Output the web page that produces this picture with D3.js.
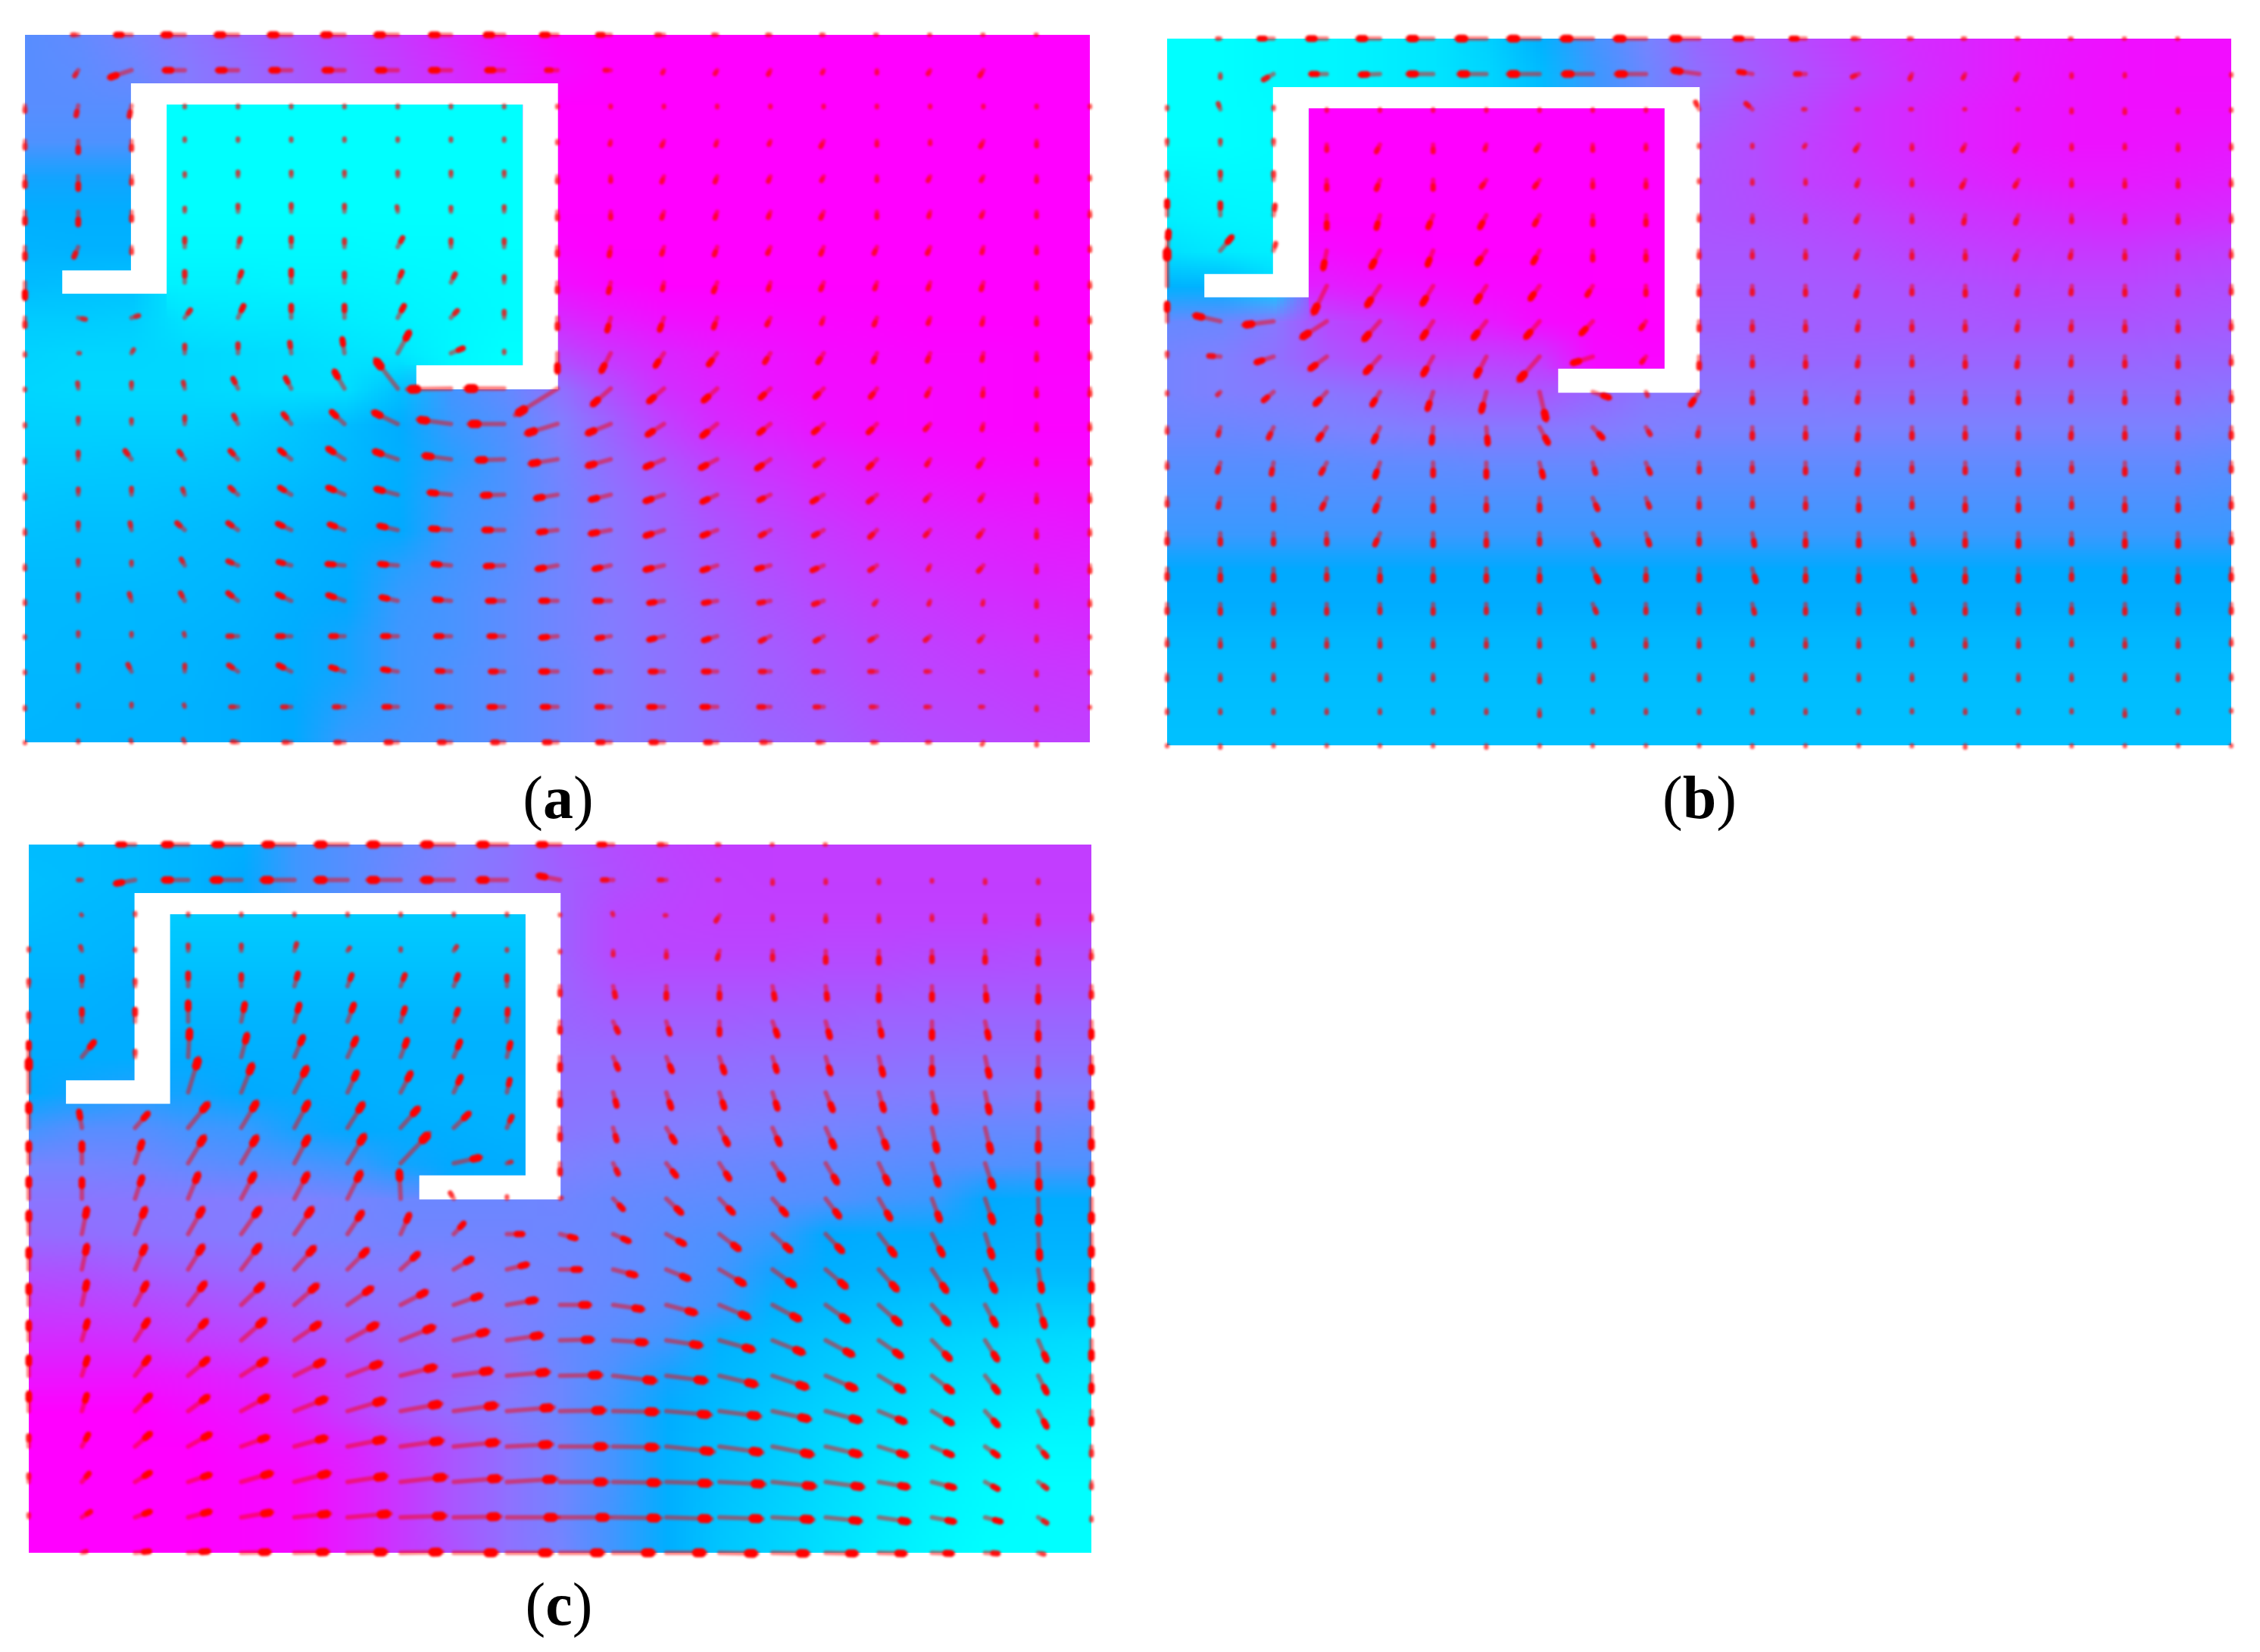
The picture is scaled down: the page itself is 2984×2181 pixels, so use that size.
<!DOCTYPE html>
<html><head><meta charset="utf-8">
<style>html,body{margin:0;padding:0;background:#fff}svg{display:block}</style>
<script src="https://cdnjs.cloudflare.com/ajax/libs/d3/7.8.5/d3.min.js"></script>
</head><body><div id="chart"></div>
<script>
const panelLabels=["a","b","c"];
const heatA=[
[42,44,48,54,60,66,72,78,85,92,98,100,100,100,100,100,100,100,100,100,100],
[42,43,46,52,58,64,70,76,83,90,96,100,100,100,100,100,100,100,100,100,100],
[42,42,42,0,0,0,0,0,0,0,100,100,100,100,100,100,100,100,100,100,100],
[40,40,40,0,0,0,0,0,0,0,100,100,100,100,100,100,100,100,100,100,100],
[34,34,34,0,0,0,0,0,0,0,100,100,100,100,100,100,100,100,100,100,100],
[31,31,31,0,0,0,0,0,0,0,100,100,100,100,100,100,100,100,100,100,100],
[29,30,30,2,2,2,2,1,1,0,98,100,100,100,100,100,100,100,100,100,100],
[26,25,24,5,5,4,4,3,2,1,94,98,100,100,100,100,100,100,100,100,100],
[20,20,19,10,9,9,7,5,3,1,84,90,94,96,97,98,99,100,100,100,100],
[17,16,16,15,14,13,11,9,3,0,72,80,86,90,93,96,97,98,98,99,100],
[16,15,15,15,14,13,13,24,38,44,56,70,82,87,92,95,96,97,98,99,98],
[18,18,18,18,19,22,26,32,36,41,50,62,75,84,88,93,96,97,98,99,99],
[20,20,21,21,22,24,27,31,35,40,48,58,68,76,82,87,91,94,96,97,97],
[22,23,23,24,25,27,29,32,36,40,47,55,63,71,77,83,87,90,92,93,94],
[24,25,25,26,27,29,31,33,37,41,47,54,61,67,73,78,83,86,88,90,91],
[26,26,26,27,28,30,32,35,38,42,47,53,59,65,70,75,79,83,85,87,88],
[27,27,28,28,29,31,33,36,39,43,47,52,57,62,67,72,76,79,82,84,85],
[27,28,28,29,30,32,34,37,39,43,47,51,56,60,65,69,73,76,79,81,82],
[28,28,29,29,31,32,34,37,40,43,46,50,55,59,63,67,71,74,76,78,79],
[28,29,29,30,31,33,35,37,40,43,46,50,54,58,62,65,69,72,74,76,77],
[29,29,30,30,31,33,36,38,40,43,46,50,54,57,60,63,67,70,72,74,75]];
const uA=[
[0,-8,-22,-30,-30,-30,-30,-30,-28,-26,-22,-18,-10,-5,-4,-3,-2,-1,-1,-1,0],
[0,-5,-30,-28,-28,-28,-28,-28,-28,-24,-15,-8,-2,-3,-3,-2,0,-3,-5,0,0],
[0,-3,-3,0,0,0,0,0,0,0,0,0,0,0,0,0,0,0,0,0,0],
[0,0,0,0,0,0,0,0,0,0,0,-1,-3,-2,-2,-4,0,0,-4,0,0],
[0,0,0,0,0,0,0,0,0,0,0,0,-3,-3,-3,-3,0,-3,-3,0,0],
[0,0,0,0,0,0,0,-1,0,0,0,0,-3,-3,-3,-4,0,-2,-3,0,0],
[0,-6,0,0,3,0,0,7,0,0,0,-2,-3,-4,-4,-4,-4,-4,-2,0,0],
[0,0,0,0,5,0,0,6,6,0,0,-3,-2,-5,-3,-4,-3,-3,-3,0,0],
[0,10,10,8,8,0,0,9,9,0,0,-5,-6,-5,-5,-3,-4,-3,-2,0,0],
[0,2,3,0,0,-2,-3,16,17,0,0,-13,-12,-12,-8,-8,-5,-4,-2,0,0],
[0,-1,0,-2,-7,-8,-14,-30,-58,-52,-56,-25,-21,-19,-14,-12,-9,-5,-1,0,0],
[0,0,0,0,-6,-11,-18,-33,-44,-47,-42,-32,-23,-21,-16,-14,-12,-7,-2,0,0],
[0,0,-9,-8,-11,-16,-23,-32,-37,-37,-37,-32,-26,-23,-19,-12,-12,-5,-7,0,0],
[0,0,0,-3,-11,-16,-23,-30,-30,-30,-30,-28,-26,-21,-16,-16,-12,-7,-5,0,0],
[0,0,-2,-11,-14,-19,-21,-26,-28,-28,-26,-28,-26,-21,-14,-14,-10,-7,-7,0,0],
[0,0,0,-5,-14,-18,-24,-25,-25,-26,-28,-23,-26,-21,-19,-16,-10,-3,-7,0,0],
[0,0,-3,-6,-14,-19,-23,-23,-23,-23,-23,-22,-21,-19,-16,-14,-4,-2,-1,0,0],
[0,0,0,-1,-14,-19,-19,-21,-21,-21,-23,-19,-21,-19,-14,-12,-10,-7,-6,0,0],
[0,0,-5,0,-13,-18,-19,-21,-19,-19,-23,-21,-19,-19,-14,-14,-10,-6,-4,0,0],
[0,0,0,-1,-10,-12,-14,-19,-19,-21,-21,-19,-21,-21,-16,-12,-8,-6,-4,0,0],
[0,0,-1,-2,-8,-10,-12,-16,-16,-16,-18,-18,-18,-16,-12,-8,-6,-4,-2,0,0]];
const vA=[
[0,0,0,0,0,0,0,0,0,0,0,0,0,0,0,0,0,0,0,0,0],
[0,-8,-10,0,0,0,0,0,0,0,0,0,-4,-5,-6,-4,-4,-5,-8,0,0],
[-8,-14,-15,-2,-2,-2,-2,-2,-2,-2,-2,-2,-2,-2,-2,-2,-2,-2,-2,-2,-2],
[-10,-16,-12,3,3,3,3,3,3,3,-3,-5,-7,-6,-5,-8,-6,-4,-8,-7,0],
[-14,-18,-10,4,6,6,6,6,6,6,-8,-7,-8,-8,-7,-6,-6,-6,-6,-7,-4],
[-16,-18,-12,5,9,10,9,7,6,7,-10,-9,-9,-9,-8,-9,-8,-7,-7,-7,-6],
[-16,-14,-8,12,12,13,10,13,10,10,-11,-12,-10,-11,-9,-10,-9,-9,-8,-8,-5],
[-22,0,0,15,15,17,13,15,12,8,-13,-14,-10,-13,-10,-10,-9,-9,-10,-8,-6],
[-12,-2,3,11,17,17,17,17,10,9,-15,-18,-17,-14,-10,-8,-10,-8,-9,-9,-6],
[-3,0,5,11,13,15,20,29,7,3,-26,-25,-18,-16,-13,-13,-12,-11,-10,-9,-7],
[-2,8,8,9,14,15,24,39,-1,0,-35,-22,-18,-17,-13,-12,-12,-10,-10,-10,-9],
[-3,8,6,10,12,14,17,16,6,0,-13,-13,-15,-17,-13,-12,-12,-8,-8,-8,-7],
[-4,10,12,11,12,13,15,11,5,-1,-6,-9,-11,-12,-13,-9,-12,-8,-10,-7,-6],
[-5,8,9,8,10,10,10,8,3,-1,-5,-7,-9,-10,-8,-10,-10,-8,-8,-10,-9],
[-5,10,10,10,10,9,8,6,2,0,-3,-5,-8,-8,-8,-8,-10,-8,-9,-10,-6],
[-5,7,5,9,6,5,2,2,2,-1,-5,-5,-6,-7,-5,-7,-7,-6,-8,-9,-9],
[-4,9,10,11,11,9,8,5,2,0,0,0,-3,-3,-3,-5,-5,-5,-5,-8,-6],
[-2,5,4,4,0,0,0,0,0,0,-2,-3,-5,-6,-7,-7,-6,-6,-7,-6,-2],
[-2,9,10,9,9,9,6,3,1,0,0,0,0,0,0,0,0,0,0,-5,-2],
[-3,3,4,3,0,0,0,0,0,0,0,0,0,0,0,0,0,0,0,-4,-1],
[-1,2,3,4,1,0,0,0,0,0,0,0,0,0,0,0,0,0,-3,-4,0]];
const heatB=[
[0,0,2,3,6,10,18,30,38,48,60,66,72,78,83,86,90,92,94,95,95],
[0,0,2,3,6,10,16,26,36,46,58,64,70,76,82,86,90,93,94,95,95],
[0,0,1,100,100,100,100,100,100,100,62,68,73,80,84,88,91,93,94,94,94],
[0,0,1,100,100,100,100,100,100,100,66,70,75,80,84,88,91,93,93,92,91],
[3,2,2,100,100,100,100,100,100,100,67,70,75,78,82,85,88,90,90,89,88],
[6,4,3,100,100,100,100,100,100,100,67,69,71,74,77,80,82,84,85,84,83],
[12,8,6,96,99,100,100,100,100,100,66,66,68,70,73,75,77,78,78,76,75],
[30,30,16,88,92,94,97,98,100,100,64,64,65,66,68,69,71,72,72,70,69],
[45,46,53,72,78,86,90,96,98,100,62,62,63,64,65,66,67,67,67,66,65],
[48,50,56,66,72,75,75,78,96,98,58,59,60,60,60,61,61,61,61,60,60],
[48,50,52,54,58,62,64,66,60,54,54,54,54,55,55,55,55,55,55,55,54],
[46,46,47,49,50,52,53,53,52,50,49,49,49,49,49,49,49,49,49,49,48],
[42,42,42,43,44,44,45,45,45,44,44,44,44,44,44,44,44,44,44,44,43],
[39,39,39,40,40,40,40,40,40,40,40,40,40,40,40,40,40,40,40,40,39],
[36,36,36,36,36,36,36,36,36,36,36,36,36,36,36,36,36,36,36,36,36],
[33,33,33,33,33,33,33,33,33,33,33,33,33,33,33,33,33,33,33,33,33],
[32,32,32,32,32,32,32,32,32,32,32,32,32,32,32,32,32,32,32,32,32],
[28,28,28,28,28,28,28,28,28,28,28,28,28,28,28,28,28,28,28,28,28],
[26,26,26,26,26,26,26,26,26,26,26,26,26,26,26,26,26,26,26,26,26],
[25,25,25,25,25,25,25,25,25,25,25,25,25,25,25,25,25,25,25,25,25],
[24,24,24,24,24,24,24,24,24,24,24,24,24,24,24,24,24,24,24,24,24]];
const uB=[
[0,-4,-20,-26,-30,-34,-40,-42,-42,-42,-38,-24,-20,-8,-4,-3,-2,-2,-1,-1,0],
[0,0,-14,-22,-27,-34,-37,-42,-40,-40,-36,-19,-14,-9,-3,-3,-4,0,0,0,0],
[0,-3,0,0,0,0,0,0,0,0,-5,-9,-3,-3,-2,-1,-1,0,0,0,0],
[0,0,0,0,-5,0,-2,-5,0,0,0,0,-2,-5,0,-4,-5,0,0,0,0],
[0,0,0,0,-5,0,-7,-7,0,0,0,0,0,-3,0,-5,-5,0,0,0,0],
[0,0,2,0,-5,-7,-9,-7,0,0,0,0,0,-4,0,-2,-4,0,0,0,0],
[2,16,3,-5,-12,-8,-13,-9,0,0,0,0,0,-4,0,0,-5,-2,0,0,0],
[0,0,0,-18,-18,-15,-14,-13,-8,0,0,0,0,-4,0,0,-2,-1,0,0,0],
[0,-35,-40,-34,-22,-15,-18,-19,-16,-7,0,0,0,-2,0,0,-2,-1,0,0,0],
[0,-16,-24,-23,-20,-14,-14,-28,-28,-6,0,0,0,-2,0,0,-2,-1,0,0,0],
[0,-4,-14,-16,-11,-8,-7,9,23,2,-12,0,0,-2,0,0,0,-1,0,0,0],
[0,-3,-7,-12,-9,-2,2,12,14,6,-2,0,0,-2,0,0,0,-1,0,0,0],
[0,-4,-3,-8,-7,0,0,5,4,6,0,0,0,-2,0,0,0,0,0,0,0],
[0,-3,0,-7,-7,0,0,0,7,5,0,0,0,0,0,0,0,0,0,0,0],
[0,0,0,0,-7,0,0,0,8,5,0,3,0,0,2,0,0,0,0,0,0],
[0,0,0,0,0,0,0,0,8,0,0,5,0,0,4,0,0,0,0,0,0],
[0,0,0,0,0,0,0,0,5,0,0,3,0,0,3,0,0,0,0,0,0],
[0,0,0,0,0,0,0,0,2,0,0,0,0,0,0,0,0,0,0,0,0],
[0,0,0,0,0,0,0,0,0,0,0,0,0,0,0,0,0,0,0,0,0],
[0,0,0,0,0,0,0,0,0,0,0,0,0,0,0,0,0,0,0,0,0],
[0,0,0,0,0,0,0,0,0,0,0,0,0,0,0,0,0,0,0,0,0]];
const vB=[
[0,0,0,0,0,0,0,0,0,0,0,0,0,0,0,0,0,0,0,0,0],
[0,-5,-8,0,-1,0,0,0,0,0,5,3,0,-4,-7,-6,-8,-4,-3,0,-2],
[3,8,3,-2,-2,-2,-2,-2,-2,-2,10,8,0,0,0,0,0,-4,-5,-4,-2],
[6,6,6,-8,-10,-10,-7,-8,-8,-6,-3,-3,-3,-8,-6,-8,-9,-6,-5,-7,-5],
[10,11,10,-13,-13,-13,-10,-10,-10,-10,-3,-5,-5,-8,-7,-10,-9,-8,-9,-9,-7],
[20,17,14,-18,-18,-17,-17,-13,-13,-13,-7,-9,-9,-9,-9,-11,-11,-9,-10,-10,-8],
[27,19,10,-25,-23,-20,-18,-17,-13,-13,-9,-9,-10,-10,-10,-11,-12,-10,-11,-11,-8],
[50,0,0,-37,-27,-25,-22,-18,-13,-12,-12,-11,-12,-14,-11,-13,-12,-11,-12,-12,-10],
[25,8,-5,-22,-25,-23,-23,-22,-17,-10,-12,-12,-12,-12,-12,-12,-12,-12,-13,-13,-10],
[5,1,-8,-17,-22,-25,-27,-32,-9,-8,-16,-13,-14,-13,-12,-14,-14,-12,-13,-14,-10],
[-3,-4,-12,-17,-18,-24,-27,-38,-8,-5,-18,-15,-15,-14,-14,-15,-15,-13,-15,-15,-12],
[-7,-11,-15,-17,-20,-22,-23,-22,-15,-10,-12,-15,-15,-17,-15,-15,-15,-15,-15,-15,-14],
[-7,-13,-16,-15,-20,-18,-20,-20,-15,-15,-13,-12,-14,-16,-12,-14,-16,-12,-16,-13,-12],
[-10,-13,-16,-15,-18,-18,-17,-17,-16,-13,-13,-12,-14,-17,-13,-17,-17,-13,-17,-17,-13],
[-14,-15,-15,-15,-16,-17,-17,-15,-16,-16,-15,-17,-17,-17,-15,-17,-18,-15,-18,-18,-13],
[-14,-16,-16,-15,-17,-17,-17,-17,-18,-16,-16,-18,-17,-17,-17,-18,-17,-15,-18,-18,-15],
[-12,-13,-13,-13,-12,-13,-12,-12,-12,-12,-12,-13,-13,-13,-12,-13,-13,-12,-13,-13,-12],
[-8,-10,-10,-10,-10,-10,-10,-10,-10,-10,-10,-8,-10,-10,-8,-10,-10,-8,-10,-10,-7],
[-7,-7,-7,-7,-7,-7,-7,-10,-7,-7,-7,-7,-7,-7,-7,-7,-7,-7,-7,-7,-6],
[-4,-4,-4,-4,-4,-4,-4,-8,-3,-4,-4,-4,-4,-4,-3,-4,-4,-3,-8,-4,-2],
[-1,-3,-1,-1,-1,-1,-3,-1,-1,-1,-1,-2,-1,-1,-1,-3,-1,-1,-1,-1,-1]];
const heatC=[
[26,26,27,29,31,37,42,46,50,55,64,70,74,76,76,76,76,76,76,76,76],
[25,26,27,29,33,37,42,47,51,56,63,69,73,75,76,76,76,76,76,76,76],
[26,27,28,20,20,20,20,20,20,20,62,72,74,75,75,75,75,75,75,75,75],
[28,28,29,23,23,23,23,23,23,23,62,72,73,73,73,72,72,71,71,70,70],
[30,30,31,26,26,26,26,26,26,26,61,68,68,68,68,67,67,66,66,66,66],
[31,31,32,29,29,29,29,29,29,29,60,63,63,63,62,62,61,61,60,60,60],
[32,32,32,32,31,31,30,30,30,30,58,58,58,58,57,57,57,56,56,56,56],
[33,34,35,34,33,32,31,30,29,29,56,55,55,54,53,52,52,51,51,50,50],
[38,42,42,38,36,34,33,32,31,30,54,52,51,50,49,48,47,46,45,45,44],
[48,48,47,44,42,40,37,34,33,32,50,48,47,46,45,44,43,42,41,40,40],
[54,54,53,52,51,50,48,46,46,46,47,45,44,43,42,41,38,36,33,32,32],
[58,57,55,53,51,49,48,47,47,47,46,45,42,40,36,33,32,32,31,30,30],
[68,67,64,61,58,55,53,52,50,48,47,45,42,38,34,31,30,29,28,27,27],
[76,75,73,70,66,62,58,55,52,49,47,44,41,36,30,27,25,23,22,20,20],
[84,84,82,78,75,70,66,60,56,52,45,42,37,30,26,23,20,18,16,14,13],
[92,92,92,90,86,80,74,66,60,54,46,39,34,28,24,20,17,14,12,10,9],
[100,100,100,96,92,86,76,66,58,52,46,37,32,26,21,17,14,11,8,6,5],
[100,100,100,100,96,92,86,76,66,56,47,38,31,25,20,15,11,7,4,2,2],
[100,100,100,100,98,96,88,78,66,56,47,38,31,24,19,14,9,5,2,0,0],
[100,100,100,100,98,96,88,78,66,56,47,37,31,23,18,13,8,4,1,0,0],
[100,100,100,100,98,96,88,78,68,56,48,37,31,22,17,12,7,3,0,0,0]];
const uC=[
[0,-3,-24,-34,-38,-42,-43,-44,-43,-39,-30,-20,-10,-3,-1,-1,0,0,0,0,0],
[0,-5,-27,-34,-40,-44,-43,-44,-43,-39,-30,-15,-10,-3,0,0,0,0,0,0,0],
[0,-1,0,0,0,0,0,0,0,0,0,-1,-2,-5,0,0,0,0,0,0,0],
[0,-2,0,0,0,3,3,0,4,0,0,0,0,-3,0,0,0,0,0,0,0],
[0,0,0,0,0,5,6,6,6,0,0,3,0,0,3,2,0,0,2,0,0],
[0,0,0,0,5,7,9,6,6,1,0,7,5,0,7,6,4,0,5,0,0],
[0,17,0,2,8,12,12,9,9,5,0,7,8,7,6,7,6,0,6,0,0],
[0,0,0,14,15,17,13,14,10,4,0,5,7,7,7,10,7,5,6,0,0],
[0,-4,18,27,21,19,21,24,21,7,0,5,12,12,10,12,11,7,8,0,0],
[0,0,10,22,21,19,23,38,36,6,0,7,14,14,15,16,13,9,11,1,0],
[0,0,10,14,18,18,18,-2,-5,0,2,14,21,19,19,19,16,11,11,1,0],
[0,7,14,20,25,24,20,12,14,22,22,22,25,27,25,23,22,15,10,2,0],
[0,7,14,20,25,27,27,24,25,28,28,31,31,34,30,28,25,20,14,5,0],
[0,7,16,23,29,31,33,35,37,40,40,40,40,40,37,31,29,23,15,9,0],
[0,8,18,25,32,34,40,45,46,47,44,45,47,46,42,37,31,25,17,12,0],
[0,8,19,27,34,40,45,47,51,56,55,57,54,50,47,41,34,28,18,12,0],
[0,7,21,27,36,43,50,54,58,62,60,60,59,54,50,47,36,28,18,12,0],
[0,9,21,30,36,43,50,56,60,60,63,60,63,57,54,47,38,28,18,12,0],
[0,10,21,30,41,47,52,61,63,66,63,63,60,60,57,50,40,31,18,12,0],
[0,12,21,30,41,47,57,60,62,68,66,63,60,57,54,47,41,31,22,12,0],
[0,6,20,28,38,45,52,55,58,60,58,55,52,50,48,42,36,28,18,8,0]];
const vC=[
[0,0,0,0,0,0,0,0,0,0,0,0,0,0,0,0,0,0,0,0,0],
[0,0,-5,0,0,0,0,0,0,0,6,0,0,0,-5,-4,-4,-2,-4,-4,0],
[0,1,3,2,2,2,2,2,2,2,1,3,0,-8,-6,-8,-8,-6,-9,-12,-6],
[3,6,2,8,8,10,4,3,6,2,-2,-6,-9,-11,-12,-16,-17,-15,-16,-18,-10],
[8,13,8,18,16,18,16,16,16,14,-12,-15,-17,-17,-18,-18,-20,-19,-20,-22,-15],
[11,17,17,27,25,24,24,19,17,17,-15,-15,-17,-18,-20,-22,-20,-23,-23,-25,-22],
[20,21,8,37,31,28,26,24,22,20,-18,-17,-20,-22,-20,-23,-25,-24,-27,-27,-22],
[45,0,0,46,38,34,28,27,22,18,-18,-19,-22,-22,-23,-25,-25,-28,-28,-25,-22],
[33,23,20,33,35,35,33,27,20,16,-16,-18,-20,-23,-23,-27,-28,-32,-33,-32,-28],
[28,28,30,36,36,36,38,40,8,2,-15,-15,-18,-22,-23,-27,-28,-30,-33,-35,-30],
[28,27,30,34,34,34,36,38,8,3,1,-15,-20,-20,-22,-25,-28,-30,-33,-35,-32],
[30,35,35,35,35,35,30,27,15,0,-6,-10,-14,-21,-23,-24,-29,-29,-32,-34,-30],
[28,33,32,32,33,30,27,22,15,7,0,-8,-13,-20,-22,-24,-28,-30,-30,-30,-30],
[27,32,30,30,28,27,23,18,13,7,0,-6,-11,-17,-20,-22,-26,-26,-28,-30,-28],
[25,27,28,27,28,23,22,18,12,7,1,-3,-7,-13,-17,-20,-22,-26,-27,-28,-26],
[26,25,25,23,22,20,17,12,7,5,1,-7,-7,-12,-16,-18,-21,-22,-23,-24,-22],
[25,23,22,20,20,17,15,10,8,5,1,-1,-5,-7,-11,-13,-15,-17,-20,-22,-18],
[15,17,18,17,13,12,10,8,6,3,0,-1,-7,-8,-11,-11,-12,-12,-13,-14,-12],
[10,12,13,10,12,12,8,7,5,4,0,-1,-2,-3,-6,-7,-7,-8,-10,-9,-8],
[4,8,8,8,7,5,5,2,1,0,0,-1,-2,-2,-3,-5,-6,-6,-6,-8,-4],
[0,2,2,2,1,1,1,1,0,0,0,0,0,-1,-1,-1,-1,-1,-1,-2,0]];

const W=2984,H=2181,N=21;
const panels=[
 {label:panelLabels[0],heat:heatA,u:uA,v:vA,x0:33,x1:1439,y0:46,y1:980,lx:737,ly:1080},
 {label:panelLabels[1],heat:heatB,u:uB,v:vB,x0:1541,x1:2946,y0:51,y1:984,lx:2244,ly:1080},
 {label:panelLabels[2],heat:heatC,u:uC,v:vC,x0:38,x1:1441,y0:1115,y1:2050,lx:738,ly:2145}];
const color=d3.scaleLinear()
 .domain([0,33,36,50,100])
 .range(["#00ffff","#00aaff","#3a99ff","#8080ff","#ff00ff"])
 .clamp(true);
const arrow=d3.scaleLinear().domain([-100,100]).range([-100,100]);
const wallOuter=[[1.99,1.37],[10.01,1.37],[10.01,10.02],[7.35,10.02],[7.35,9.34],[9.35,9.34],[9.35,1.97],[2.66,1.97],[2.66,7.32],[0.70,7.32],[0.70,6.66],[1.99,6.66]];
const cavity=[[2.66,1.97],[9.35,1.97],[9.35,9.34],[2.66,9.34]];

function gridImage(grid){
 const c=document.createElement("canvas");c.width=N;c.height=N;
 const g=c.getContext("2d");
 grid.forEach((row,r)=>row.forEach((t,k)=>{g.fillStyle=color(t);g.fillRect(k,r,1,1);}));
 return c.toDataURL("image/png");
}
const svg=d3.select("#chart").append("svg").attr("width",W).attr("height",H).attr("viewBox",`0 0 ${W} ${H}`);
const defs=svg.append("defs");
defs.append("filter").attr("id","soft").attr("x","-2%").attr("y","-2%").attr("width","104%").attr("height","104%")
 .append("feGaussianBlur").attr("stdDeviation",1.5);
svg.append("rect").attr("width",W).attr("height",H).attr("fill","#fff");

panels.forEach((p,pi)=>{
 const x=d3.scaleLinear().domain([0,N-1]).range([p.x0,p.x1]);
 const y=d3.scaleLinear().domain([0,N-1]).range([p.y0,p.y1]);
 const dx=x(1)-x(0),dy=y(1)-y(0);
 const line=d3.line().x(d=>x(d[0])).y(d=>y(d[1]));
 // exterior field: the row hidden behind the top wall repeats the row above it
 const outer=p.heat.map(r=>r.slice());
 for(let k=3;k<=9;k++) outer[2][k]=p.heat[1][k];
 // cavity field: nodes across a wall repeat the nearest cavity node
 const inner=p.heat.map(r=>r.slice());
 for(let k=2;k<=10;k++) inner[1][k]=p.heat[2][Math.min(9,Math.max(3,k))];
 for(let r=2;r<=7;r++) inner[r][2]=p.heat[r][3];
 for(let r=1;r<=10;r++) inner[r][10]=p.heat[Math.min(r,9)][9];
 for(let k=8;k<=9;k++) inner[10][k]=p.heat[9][k];
 const id="p"+pi;
 defs.append("clipPath").attr("id",id+"box").append("rect")
  .attr("x",p.x0).attr("y",p.y0).attr("width",p.x1-p.x0).attr("height",p.y1-p.y0);
 defs.append("clipPath").attr("id",id+"cav").append("path").attr("d",line(cavity)+"Z");
 const g=svg.append("g").attr("class","panel");
 const place=s=>s.attr("x",x(0)-dx/2).attr("y",y(0)-dy/2).attr("width",dx*N).attr("height",dy*N).attr("preserveAspectRatio","none");
 g.append("g").attr("clip-path",`url(#${id}box)`).append("image").attr("href",gridImage(outer)).call(place);
 g.append("g").attr("clip-path",`url(#${id}cav)`).append("image").attr("href",gridImage(inner)).call(place);
 g.append("path").attr("d",line(wallOuter)+"Z").attr("fill","#fff");

 const nodes=[];
 p.u.forEach((row,r)=>row.forEach((val,k)=>{
   const vy=p.v[r][k];
   if(val===0&&vy===0) return;
   const ax=arrow(val),ay=-arrow(vy);
   const len=Math.hypot(ax,ay);
   nodes.push({r,k,ax,ay,len,from:.9-Math.min(.3,7/len)});
 }));
 const q=g.append("g").attr("class","quiver").attr("filter","url(#soft)").attr("stroke-linecap","round");
 q.selectAll("line.shaft").data(nodes).join("line").attr("class","shaft")
  .attr("x1",d=>x(d.k)).attr("y1",d=>y(d.r))
  .attr("x2",d=>x(d.k)+d.ax).attr("y2",d=>y(d.r)+d.ay)
  .attr("stroke","#ff0000").attr("stroke-opacity",.5)
  .attr("stroke-width",6);
 q.selectAll("line.head").data(nodes).join("line").attr("class","head")
  .attr("x1",d=>x(d.k)+d.ax*d.from).attr("y1",d=>y(d.r)+d.ay*d.from)
  .attr("x2",d=>x(d.k)+d.ax*.9).attr("y2",d=>y(d.r)+d.ay*.9)
  .attr("stroke","#ff0000")
  .attr("stroke-opacity",d=>Math.min(1,.25+d.len/28))
  .attr("stroke-width",d=>Math.min(12,6+d.len/9));

 const t=svg.append("text").attr("x",p.lx).attr("y",p.ly).attr("text-anchor","middle")
  .attr("font-family","'Liberation Serif',serif").attr("font-size",80).attr("fill","#000");
 t.append("tspan").text("(");
 t.append("tspan").attr("font-weight","bold").text(p.label);
 t.append("tspan").text(")");
});
</script></body></html>
